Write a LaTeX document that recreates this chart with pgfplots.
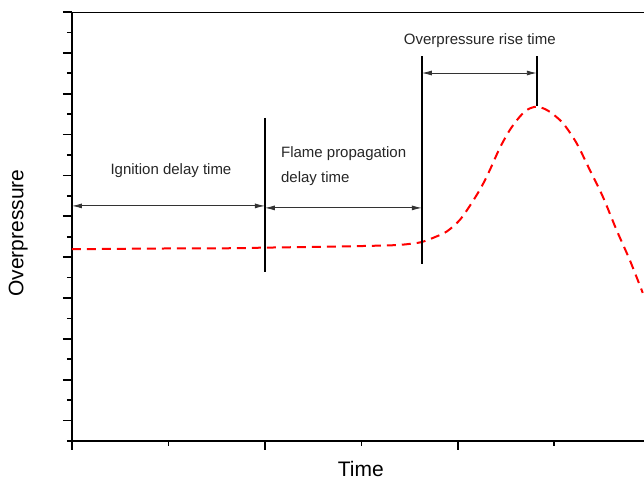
\documentclass[border=0pt]{standalone}
\usepackage{pgfplots}
\pgfplotsset{compat=1.18}
\usepackage{fontspec}
\setmainfont{Liberation Sans}
\usetikzlibrary{arrows.meta}

% 1 px of the reference = 1pt here
\tikzset{dim/.style={line width=0.9pt, black!80,
  {Latex[length=10pt,width=5pt]}-{Latex[length=10pt,width=5pt]}}}

\begin{document}
\begin{tikzpicture}
\begin{axis}[
  x=96.5pt, y=40.87pt,
  xmin=0, xmax=5.93,
  ymin=-0.5, ymax=10,
  axis lines*=left,
  axis line style={line width=1.7pt},
  xtick={0,2,4}, minor xtick={1,3,5},
  ytick={0,1,...,10}, minor ytick={-0.5,0.5,...,9.5},
  xticklabels={}, yticklabels={},
  tick align=outside,
  major tick length=9pt, minor tick length=5pt,
  every tick/.style={black, line width=1.7pt},
  xlabel={\fontsize{21}{25}\selectfont Time},
  ylabel={\fontsize{21}{25}\selectfont Overpressure},
  xlabel style={at={(axis description cs:0.505,-0.066)}, anchor=center, inner sep=1pt},
  ylabel style={at={(axis description cs:-0.094,0.485)}, anchor=center},
  clip=true,
]
% pressure trace
\addplot[red, line width=2pt, dash pattern=on 9pt off 6pt, smooth, tension=0.5]
coordinates {
  (0,4.194) (0.808,4.21) (1.637,4.218) (2.0,4.233) (2.674,4.257)
  (3.192,4.282) (3.399,4.30) (3.534,4.335) (3.627,4.37) (3.741,4.47)
  (3.883,4.624) (4.021,4.911) (4.142,5.319) (4.246,5.725) (4.332,6.134)
  (4.435,6.672) (4.539,7.112) (4.642,7.438) (4.725,7.615) (4.816,7.683)
  (4.902,7.627) (4.953,7.560) (5.088,7.284) (5.230,6.795) (5.368,6.134)
  (5.503,5.481) (5.645,4.666) (5.782,3.932) (5.917,3.125)
};

% top spine
\draw[line width=1.7pt] (axis cs:0,10) -- (axis cs:5.93,10);

% event markers
\draw[line width=1.7pt] (axis cs:2.0,7.406) -- (axis cs:2.0,3.638);
\draw[line width=1.7pt] (axis cs:3.627,8.922) -- (axis cs:3.627,3.834);
\draw[line width=1.7pt] (axis cs:4.819,8.922) -- (axis cs:4.819,7.70);

% durations
\draw[dim] (axis cs:0,5.254) -- (axis cs:2.0,5.254);
\draw[dim] (axis cs:2.0,5.205) -- (axis cs:3.627,5.205);
\draw[dim] (axis cs:3.627,8.507) -- (axis cs:4.819,8.507);

\node[font=\fontsize{15}{25}\selectfont, text=black!85]
  at (axis cs:1.026,6.13) {Ignition delay time};
\node[font=\fontsize{15}{25}\selectfont, text=black!85, align=left, anchor=west, inner sep=0pt]
  at (axis cs:2.166,6.24) {Flame propagation\\delay time};
\node[font=\fontsize{15}{25}\selectfont, text=black!85]
  at (axis cs:4.228,9.29) {Overpressure rise time};

\coordinate (bl) at (axis cs:-0.746,-1.451);
\coordinate (tr) at (axis cs:5.93,10.294);
\end{axis}
\pgfresetboundingbox
\useasboundingbox (bl) rectangle (tr);
\end{tikzpicture}
\end{document}
